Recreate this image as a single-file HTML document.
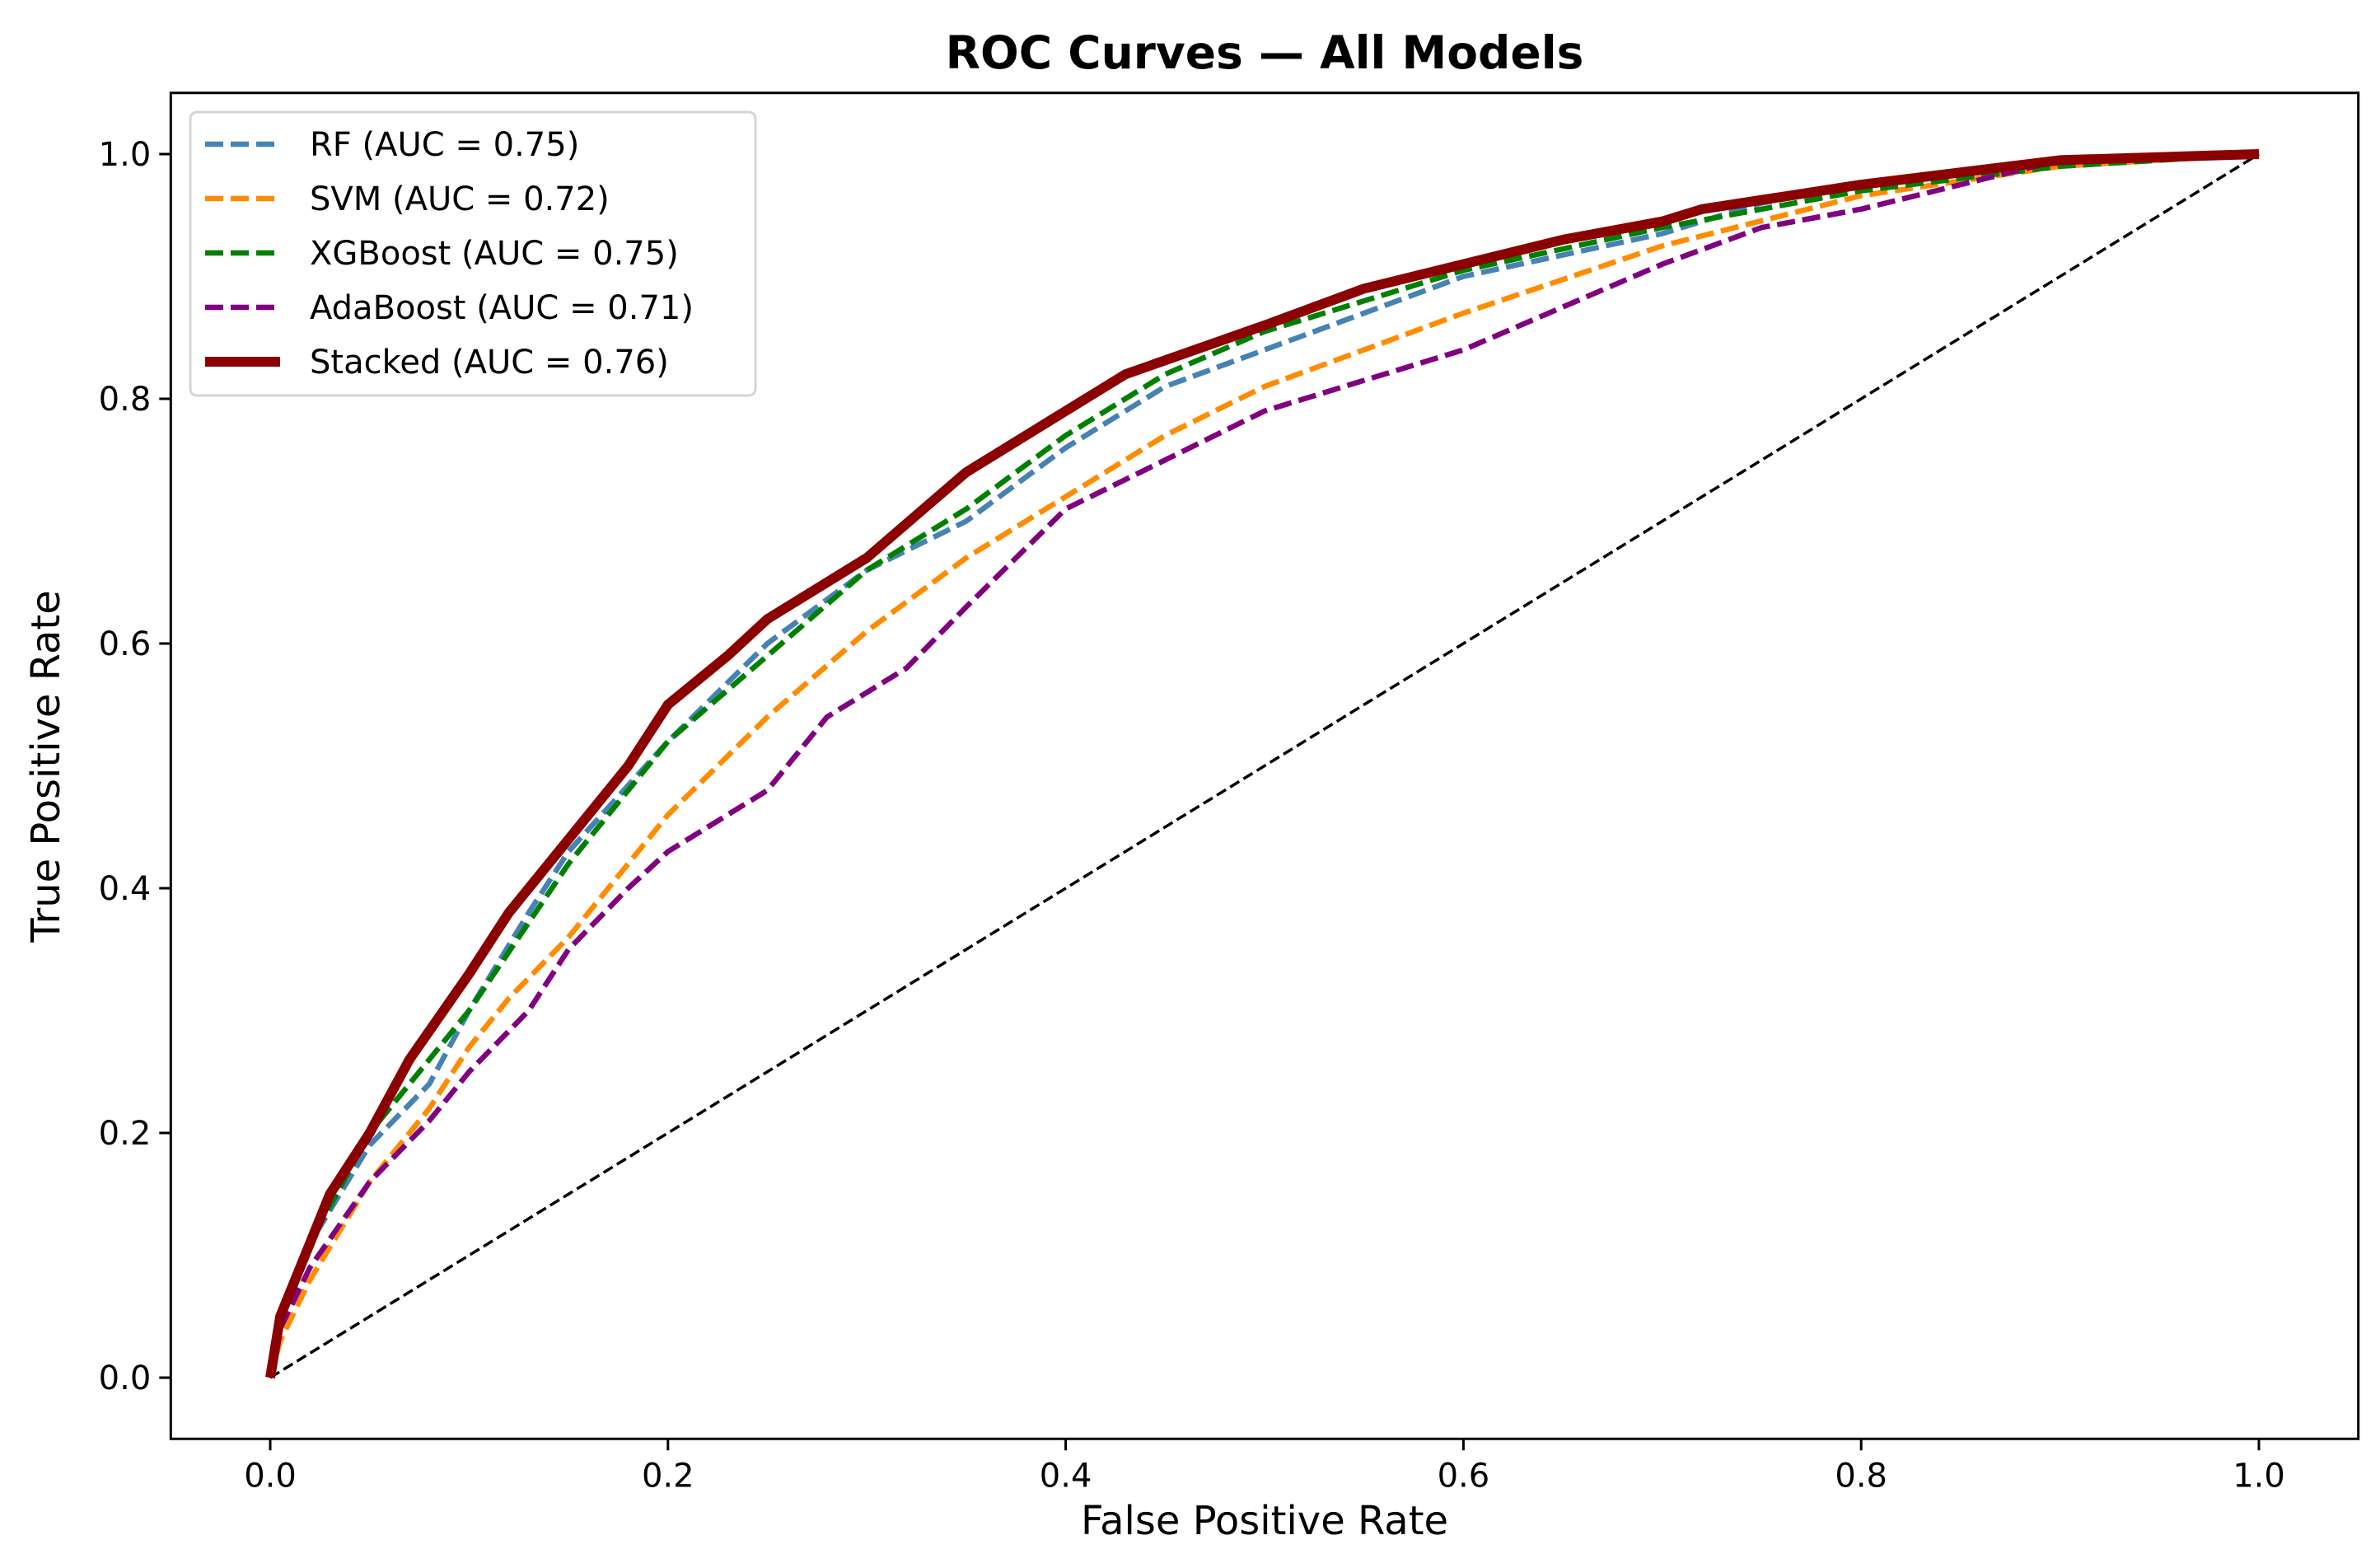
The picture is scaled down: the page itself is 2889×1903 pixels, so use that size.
<!DOCTYPE html>
<html><head><meta charset="utf-8"><style>
html,body{margin:0;padding:0;background:#fff;}
svg{display:block;font-family:"DejaVu Sans","Liberation Sans",sans-serif;}
</style></head><body>
<svg id="chart" width="2889" height="1903" viewBox="0 0 2889 1903">
<rect width="2889" height="1903" fill="#fff"/>
<text x="1535" y="83" font-size="55" font-weight="bold" text-anchor="middle">ROC Curves — All Models</text>
<text x="1535" y="1862" font-size="48" text-anchor="middle">False Positive Rate</text>
<text transform="translate(72,930) rotate(-90)" font-size="48" text-anchor="middle">True Positive Rate</text>
<g id="plot"></g>
</svg>
<script>
const tickValues = [0, 0.2, 0.4, 0.6, 0.8, 1.0];
const tickLabels = ["0.0","0.2","0.4","0.6","0.8","1.0"];
const seriesNames = ["RF (AUC = 0.75)","SVM (AUC = 0.72)","XGBoost (AUC = 0.75)","AdaBoost (AUC = 0.71)","Stacked (AUC = 0.76)"];
const rfFpr = [0,0.005,0.02,0.05,0.08,0.1,0.13,0.15,0.2,0.25,0.3,0.35,0.4,0.45,0.5,0.6,0.7,0.75,0.8,0.9,1];
const rfTpr = [0,0.05,0.11,0.19,0.24,0.3,0.38,0.43,0.52,0.6,0.66,0.7,0.76,0.81,0.84,0.9,0.935,0.96,0.975,0.99,1];
const svmFpr = [0,0.005,0.02,0.05,0.08,0.1,0.12,0.15,0.2,0.25,0.3,0.35,0.4,0.45,0.5,0.6,0.7,0.8,0.9,1];
const svmTpr = [0,0.03,0.08,0.16,0.22,0.27,0.31,0.36,0.46,0.54,0.61,0.67,0.72,0.77,0.81,0.87,0.925,0.966,0.99,1];
const xgbFpr = [0,0.005,0.02,0.05,0.1,0.15,0.2,0.25,0.3,0.35,0.4,0.45,0.5,0.6,0.7,0.8,0.9,1];
const xgbTpr = [0,0.05,0.11,0.2,0.3,0.42,0.52,0.59,0.66,0.71,0.77,0.82,0.855,0.905,0.94,0.97,0.99,1];
const adaFpr = [0,0.005,0.02,0.05,0.08,0.1,0.13,0.15,0.18,0.2,0.25,0.28,0.32,0.35,0.4,0.45,0.5,0.55,0.6,0.65,0.7,0.75,0.8,0.85,0.9,1];
const adaTpr = [0,0.04,0.09,0.16,0.21,0.25,0.3,0.35,0.4,0.43,0.48,0.54,0.58,0.63,0.71,0.75,0.79,0.815,0.84,0.875,0.91,0.94,0.955,0.975,0.995,1];
const stFpr = [0,0.005,0.02,0.03,0.05,0.07,0.1,0.12,0.15,0.18,0.2,0.23,0.25,0.3,0.35,0.4,0.43,0.5,0.55,0.6,0.65,0.7,0.72,0.8,0.9,1];
const stTpr = [0,0.05,0.11,0.15,0.2,0.26,0.33,0.38,0.44,0.5,0.55,0.59,0.62,0.67,0.74,0.79,0.82,0.86,0.89,0.91,0.93,0.945,0.955,0.975,0.995,1];

const NS = "http://www.w3.org/2000/svg";
const X0 = 328, XU = 2414, Y0 = 1672, YU = 1485;
const sx = v => X0 + v * XU;
const sy = v => Y0 - v * YU;
const plotLeft = sx(-0.05), plotRight = sx(1.05), plotTop = sy(1.05), plotBottom = sy(-0.05);
const g = document.getElementById('plot');
function mk(tag, attrs, parent){const e=document.createElementNS(NS,tag);for(const k in attrs)e.setAttribute(k,attrs[k]);(parent||g).appendChild(e);return e;}

tickValues.forEach((v,i)=>{
  let t=mk('line',{x1:sx(v),x2:sx(v),y1:plotBottom,y2:plotBottom+14,stroke:'#000','stroke-width':3});
  
  
  let l=mk('text',{x:sx(v),y:plotBottom+58,'font-size':40,'text-anchor':'middle'});
  l.textContent=tickLabels[i];
  
  
  let t2=mk('line',{x1:plotLeft-14,x2:plotLeft,y1:sy(v),y2:sy(v),stroke:'#000','stroke-width':3});
  
  
  let l2=mk('text',{x:plotLeft-24,y:sy(v)+14,'font-size':40,'text-anchor':'end'});
  l2.textContent=tickLabels[i];
  
  
});

let diag=mk('line',{x1:sx(0),y1:sy(0),x2:sx(1),y2:sy(1),stroke:'#000','stroke-width':3.5,'stroke-dasharray':'13 6'});



const series=[
 {f:rfFpr,t:rfTpr,c:'#4682b4',w:6.5,d:'22 9',n:'rf-curve'},
 {f:svmFpr,t:svmTpr,c:'#ff8c00',w:6.5,d:'22 9',n:'svm-curve'},
 {f:xgbFpr,t:xgbTpr,c:'#008000',w:6.5,d:'22 9',n:'xgboost-curve'},
 {f:adaFpr,t:adaTpr,c:'#800080',w:6.5,d:'22 9',n:'adaboost-curve'},
 {f:stFpr,t:stTpr,c:'#8b0000',w:12,d:'none',n:'stacked-curve'}
];
series.forEach(s=>{
  const pts=s.f.map((v,i)=>sx(v).toFixed(1)+','+sy(s.t[i]).toFixed(1)).join(' ');
  let p=mk('polyline',{points:pts,fill:'none',stroke:s.c,'stroke-width':s.w,'stroke-dasharray':s.d,'stroke-linejoin':'round'});
  
  
});

let fr=mk('rect',{x:plotLeft,y:plotTop,width:plotRight-plotLeft,height:plotBottom-plotTop,fill:'none',stroke:'#000','stroke-width':3});



const lg=mk('g',{});


mk('rect',{x:231,y:136,width:686,height:344,rx:8,fill:'#fff','fill-opacity':0.8,stroke:'#d5d5d5','stroke-width':3},lg);
seriesNames.forEach((name,i)=>{
  const s=series[i], y=175+i*66;
  const e=mk('g',{},lg);
  
  
  mk('line',{x1:249,x2:340,y1:y,y2:y,stroke:s.c,'stroke-width':s.w,'stroke-dasharray':s.d},e);
  const t=mk('text',{x:376,y:y+14,'font-size':40},e);
  t.textContent=name;
});
</script>
</body></html>
